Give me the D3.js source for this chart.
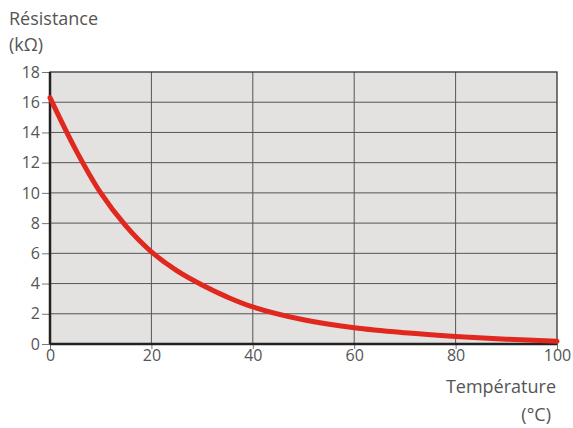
<!DOCTYPE html>
<html>
<head>
<meta charset="utf-8">
<script src="https://cdn.jsdelivr.net/npm/d3@7"></script>
<style>
  body { margin: 0; background: #fff; }
  text { font-family: "Open Sans", "DejaVu Sans", sans-serif; fill: #555; }
</style>
</head>
<body>
<svg width="573" height="428"></svg>
<script>
// values
var temps = [0, 5, 10, 15, 20, 25, 30, 35, 40, 50, 60, 70, 80, 90, 100];
var resist = [16.3, 12.9, 10.0, 7.8, 6.1, 4.85, 3.9, 3.1, 2.45, 1.6, 1.07, 0.74, 0.5, 0.32, 0.18];
var xTicks = [0, 20, 40, 60, 80, 100];
var yTicks = [0, 2, 4, 6, 8, 10, 12, 14, 16, 18];

var svg = d3.select("svg"),
    pLeft = 50, pRight = 557, pTop = 72, pBottom = 344;

var x = d3.scaleLinear().domain([0, 100]).range([pLeft, pRight]);
var y = d3.scaleLinear().domain([0, 18]).range([pBottom, pTop]);

// plot background
svg.append("rect")
    .attr("x", pLeft).attr("y", pTop)
    .attr("width", pRight - pLeft).attr("height", pBottom - pTop)
    .attr("fill", "#e4e2e0");

// grid
svg.append("g").selectAll("line").data(yTicks.slice(1, -1)).join("line")
    .attr("x1", pLeft).attr("x2", pRight)
    .attr("y1", d => y(d)).attr("y2", d => y(d))
    .attr("stroke", "#555").attr("stroke-width", 1);
svg.append("g").selectAll("line").data(xTicks.slice(1, -1)).join("line")
    .attr("y1", pTop).attr("y2", pBottom)
    .attr("x1", d => x(d)).attr("x2", d => x(d))
    .attr("stroke", "#555").attr("stroke-width", 1);

// axes
var yAxis = svg.append("g")
    .attr("transform", "translate(" + pLeft + ",0)")
    .call(d3.axisLeft(y).tickValues(yTicks).tickSize(8).tickPadding(2));
var xAxis = svg.append("g")
    .attr("transform", "translate(0," + pBottom + ")")
    .call(d3.axisBottom(x).tickValues(xTicks).tickSize(5).tickPadding(1));
[yAxis, xAxis].forEach(function(a) {
  a.select(".domain").remove();
  a.selectAll("line").attr("stroke", "#777");
  a.selectAll("text").attr("font-size", 16).attr("fill", "#666")
    .style("font-family", '"Open Sans", sans-serif');
});

// frame
svg.append("rect")
    .attr("x", pLeft).attr("y", pTop)
    .attr("width", pRight - pLeft).attr("height", pBottom - pTop)
    .attr("fill", "none").attr("stroke", "#333").attr("stroke-width", 1.3);
svg.append("line").attr("x1", pLeft).attr("x2", pLeft).attr("y1", pTop).attr("y2", pBottom)
    .attr("stroke", "#222").attr("stroke-width", 2.5);
svg.append("line").attr("x1", pLeft).attr("x2", pRight).attr("y1", pBottom).attr("y2", pBottom)
    .attr("stroke", "#222").attr("stroke-width", 2.5);

// curve
var line = d3.line()
    .x((d, i) => x(temps[i]))
    .y(d => y(d))
    .curve(d3.curveCatmullRom);
svg.append("path")
    .datum(resist)
    .attr("fill", "none")
    .attr("stroke", "#e0281f")
    .attr("stroke-width", 5)
    .attr("stroke-linecap", "round")
    .attr("d", line);

// labels
svg.append("text").attr("x", 9).attr("y", 25).attr("font-size", 18).text("Résistance");
svg.append("text").attr("x", 9).attr("y", 51).attr("font-size", 18).text("(kΩ)");
svg.append("text").attr("x", 556).attr("y", 393).attr("font-size", 18)
    .attr("text-anchor", "end").text("Température");
svg.append("text").attr("x", 551).attr("y", 421).attr("font-size", 18)
    .attr("text-anchor", "end").text("(°C)");
</script>
</body>
</html>
